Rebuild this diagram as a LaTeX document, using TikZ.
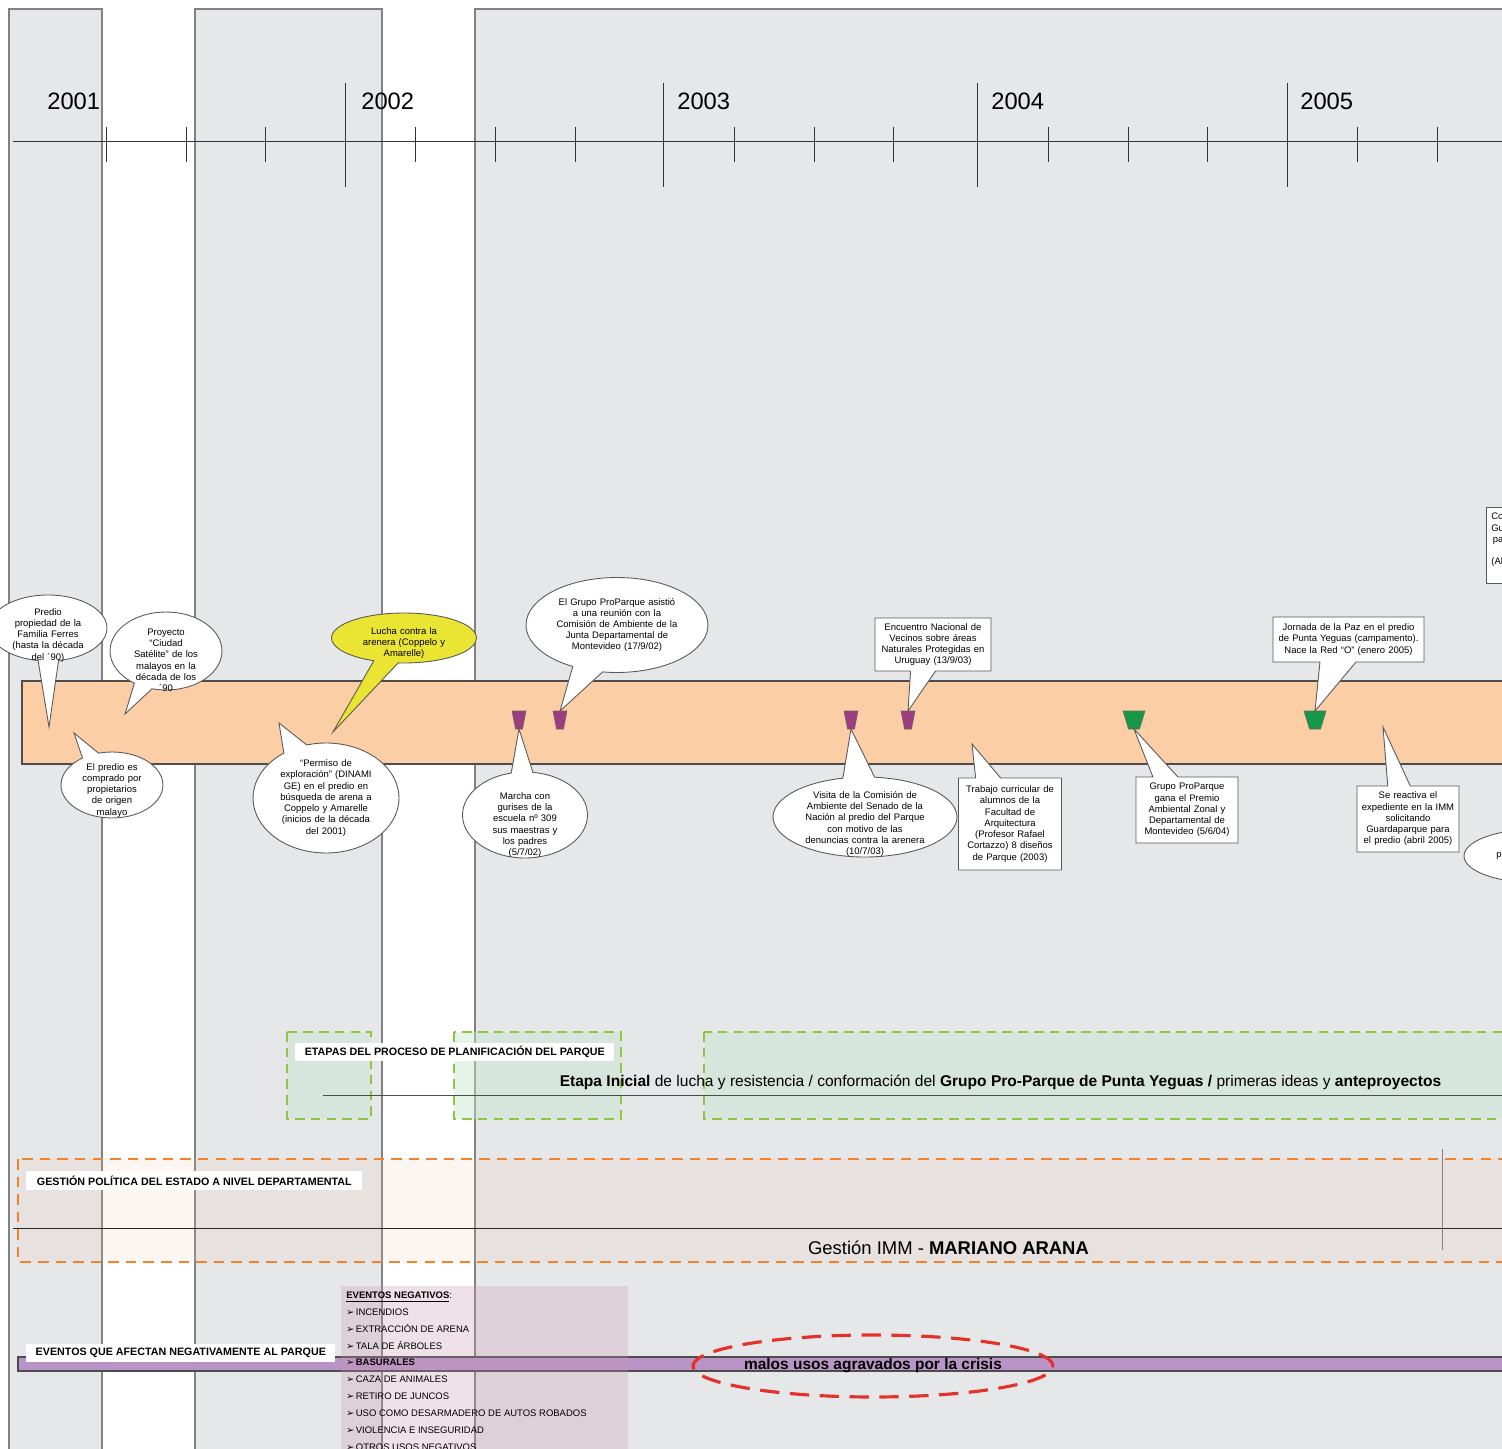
\documentclass[tikz,border=0pt]{standalone}
\usepackage{fontspec}
\setmainfont{Liberation Sans}
\newfontfamily\symb{DejaVu Sans}
\usepackage{tikz}
\usetikzlibrary{shapes,shapes.callouts,shapes.geometric,calc}
\usepackage{xcolor}
\definecolor{colgris}{RGB}{230,231,233}
\definecolor{collinea}{RGB}{130,130,132}
\definecolor{franja}{RGB}{252,206,165}
\definecolor{morado}{RGB}{158,60,128}
\definecolor{verde}{RGB}{22,152,72}
\definecolor{amarillo}{RGB}{233,229,50}
\definecolor{etapaverde}{RGB}{141,198,63}
\definecolor{etapafondo}{RGB}{198,230,205}
\definecolor{gestnaranja}{RGB}{246,130,40}
\definecolor{gestfondo}{RGB}{240,200,170}
\definecolor{evmorado}{RGB}{185,148,198}
\definecolor{evrosa}{RGB}{200,150,175}
\definecolor{rojo}{RGB}{228,50,43}
\tikzstyle{columna}=[fill=colgris, draw=collinea, line width=.6pt]
\tikzstyle{anio}=[anchor=west, inner sep=0pt, font=\fontsize{13.5}{15}\selectfont]
\tikzstyle{nube}=[ellipse callout, draw=black!65, fill=white, line width=.5pt, inner sep=-25pt, text width=2.8cm, align=center, font=\fontsize{5.4}{6.4}\selectfont, callout pointer arc=20]
\tikzstyle{cuadro}=[rectangle callout, draw=black!65, fill=white, line width=.5pt, inner sep=1pt, align=center, font=\fontsize{5.4}{6.4}\selectfont, callout pointer width=.5cm]
\tikzstyle{rotulo}=[fill=white, inner sep=0pt, font=\bfseries\fontsize{6.1}{7}\selectfont]
\tikzstyle{etapa}=[draw=etapaverde, line width=1.3pt, dash pattern=on 5.5pt off 3.5pt, fill=etapafondo, fill opacity=.45]
\tikzstyle{gestion}=[draw=gestnaranja, line width=1.3pt, dash pattern=on 6pt off 4pt, fill=gestfondo, fill opacity=.15]
\tikzset{bajar/.style={execute at begin node={\rule{0pt}{#1}}}}
\newcommand{\marca}[4]{%
 \coordinate (#2-t) at (#3,711);%
 \coordinate (#2-b) at (#3,729);%
 \filldraw[fill=#1, draw=black!60, line width=.3pt] ($(#2-t)+(-#4,0)$) -- ($(#2-t)+(#4,0)$) -- ($(#2-b)+(.5*#4,0)$) -- ($(#2-b)+(-.5*#4,0)$) -- cycle;%
}
\newcommand{\flecha}{{\symb ➢}\,}

\begin{document}
\begin{tikzpicture}[x=.02cm, y=-.02cm]
 \useasboundingbox (0,0) rectangle (1502,1449);
 \clip (0,0) rectangle (1502,1449);
 \fill[white] (0,0) rectangle (1502,1449);
%
 \draw[columna] (9,9) rectangle (102,1460);
 \draw[columna] (195,9) rectangle (382,1460);
 \draw[columna] (475,9) rectangle (1530,1460);
%
 \draw[black!80, line width=.5pt] (13,141) -- (1510,141);
 \draw[black!80, line width=.5pt] (345,83) -- (345,187) (663,83) -- (663,187) (977,83) -- (977,187) (1287,83) -- (1287,187);
 \draw[black!80, line width=.5pt] (106,127) -- (106,162) (186,127) -- (186,162) (265,127) -- (265,162) (415,127) -- (415,162) (495,127) -- (495,162) (575,127) -- (575,162) (734,127) -- (734,162) (814,127) -- (814,162) (893,127) -- (893,162) (1048,127) -- (1048,162) (1128,127) -- (1128,162) (1207,127) -- (1207,162) (1357,127) -- (1357,162) (1437,127) -- (1437,162);
 \node[anio] (a2001) at (47,101) {2001};
 \node[anio] (a2002) at (361,101) {2002};
 \node[anio] (a2003) at (677,101) {2003};
 \node[anio] (a2004) at (991,101) {2004};
 \node[anio] (a2005) at (1300,101) {2005};
%
 \draw[fill=franja, draw=black!70, line width=.6pt] (22,681) rectangle (1530,764);
%
 \marca{morado}{m1}{519}{7}
 \marca{morado}{m2}{560}{7}
 \marca{morado}{m3}{851}{7}
 \marca{morado}{m4}{908}{7}
 \marca{verde}{v1}{1134}{11}
 \marca{verde}{v2}{1315}{11}
%
 \coordinate (p-predio) at (49,727);
 \coordinate (p-satelite) at (125,714);
 \coordinate (p-compra) at (74,733);
 \coordinate (p-lucha) at (333,732);
 \coordinate (p-permiso) at (279,723);
 \coordinate (p-trabajo) at (972,744);
 \coordinate (p-reactiva) at (1383,727);
%
 \node[nube, bajar=12pt, minimum width=2.36cm, minimum height=1.32cm, callout absolute pointer={(p-predio)}] (predio) at (48,628) {Predio\\propiedad de la\\Familia Ferres\\(hasta la década\\del ´90)};
 \node[nube, bajar=14.3pt, minimum width=2.24cm, minimum height=1.56cm, callout absolute pointer={(p-satelite)}] (satelite) at (166,651) {Proyecto\\“Ciudad\\Satélite” de los\\malayos en la\\década de los\\´90};
 \node[nube, bajar=9.7pt, minimum width=2.04cm, minimum height=1.32cm, callout absolute pointer={(p-compra)}] (compra) at (112,785) {El predio es\\comprado por\\propietarios\\de origen\\malayo};
 \node[nube, bajar=9.7pt, fill=amarillo, minimum width=2.9cm, minimum height=1cm, callout absolute pointer={(p-lucha)}] (lucha) at (404,638) {Lucha contra la\\arenera (Coppelo y\\Amarelle)};
 \node[nube, minimum width=2.92cm, minimum height=2.2cm, callout absolute pointer={(p-permiso)}] (permiso) at (326,798) {“Permiso de\\exploración” (DINAMI\\GE) en el predio en\\búsqueda de arena a\\Coppelo y Amarelle\\(inicios de la década\\del 2001)};
 \node[nube, bajar=15.4pt, minimum width=2.5cm, minimum height=1.72cm, callout absolute pointer={(m1-b)}] (marcha) at (525,815) {Marcha con\\gurises de la\\escuela nº 309\\sus maestras y\\los padres\\(5/7/02)};
 \node[nube, minimum width=3.64cm, minimum height=1.9cm, callout absolute pointer={(m2-t)}] (reunion) at (617,625) {El Grupo ProParque asistió\\a una reunión con la\\Comisión de Ambiente de la\\Junta Departamental de\\Montevideo (17/9/02)};
 \node[nube, bajar=12pt, minimum width=3.68cm, minimum height=1.6cm, callout absolute pointer={(m3-b)}] (visita) at (865,817) {Visita de la Comisión de\\Ambiente del Senado de la\\Nación al predio del Parque\\con motivo de las\\denuncias contra la arenera\\(10/7/03)};
%
 \node[cuadro, text width=2.24cm, minimum width=2.32cm, minimum height=1.06cm, callout absolute pointer={(m4-t)}] (encuentro) at (933,644.5) {Encuentro Nacional de\\Vecinos sobre áreas\\Naturales Protegidas en\\Uruguay (13/9/03)};
 \node[cuadro, text width=1.98cm, minimum width=2.06cm, minimum height=1.84cm, callout absolute pointer={(p-trabajo)}] (trabajo) at (1010,824) {Trabajo curricular de\\alumnos de la\\Facultad de\\Arquitectura\\(Profesor Rafael\\Cortazzo) 8 diseños\\de Parque (2003)};
 \node[cuadro, text width=1.96cm, minimum width=2.04cm, minimum height=1.32cm, callout absolute pointer={(v1-b)}] (premio) at (1187,810) {Grupo ProParque\\gana el Premio\\Ambiental Zonal y\\Departamental de\\Montevideo (5/6/04)};
 \node[cuadro, text width=2.94cm, minimum width=3.02cm, minimum height=.9cm, callout pointer width=.72cm, callout absolute pointer={(v2-t)}] (jornada) at (1348.5,639.5) {Jornada de la Paz en el predio\\de Punta Yeguas (campamento).\\Nace la Red “O” (enero 2005)};
 \node[cuadro, text width=1.96cm, minimum width=2.04cm, minimum height=1.32cm, callout pointer width=.45cm, callout absolute pointer={(p-reactiva)}] (reactiva) at (1408,819) {Se reactiva el\\expediente en la IMM\\solicitando\\Guardaparque para\\el predio (abril 2005)};
%
 \node[draw=black!65, fill=white, line width=.5pt, minimum width=3cm, minimum height=1.52cm, anchor=west] (guarda) at (1486,545) {};
 \node[anchor=north west, align=left, inner sep=0pt, font=\fontsize{5.4}{6.4}\selectfont] (guarda-txt) at (1491,513) {Co\\Gu\\\,pa\\\mbox{}\\(Al};
 \node[ellipse, draw=black!65, fill=white, line width=.5pt, minimum width=2.8cm, minimum height=1.06cm] (ultima) at (1534,856) {};
 \node[inner sep=0pt, font=\fontsize{5.4}{6.4}\selectfont] (ultima-txt) at (1499,856) {p};
%
 \draw[etapa] (287,1032) rectangle (371,1119);
 \draw[etapa] (454,1032) rectangle (621,1119);
 \draw[etapa] (704,1032) rectangle (1530,1119);
 \draw[black!70] (323,1095) -- (1510,1095);
 \node[rotulo, anchor=west, minimum width=6.38cm, minimum height=.36cm] (etapas) at (295,1052) {ETAPAS DEL PROCESO DE PLANIFICACIÓN DEL PARQUE};
 \node[font=\fontsize{8.85}{10}\selectfont] (inicial) at (1000.5,1082) {\textbf{Etapa Inicial} de lucha y resistencia / conformación del \textbf{Grupo Pro-Parque de Punta Yeguas /} primeras ideas y \textbf{anteproyectos}};
%
 \draw[gestion] (18,1159) rectangle (1530,1262);
 \draw[black!85] (13,1228) -- (1510,1228);
 \draw[collinea] (1442,1149) -- (1442,1250);
 \node[rotulo, anchor=west, minimum width=6.72cm, minimum height=.38cm] (gestpol) at (26,1180.5) {GESTIÓN POLÍTICA DEL ESTADO A NIVEL DEPARTAMENTAL};
 \node[font=\fontsize{10.5}{12}\selectfont] (arana) at (948.5,1248) {Gestión IMM - \textbf{MARIANO ARANA}};
%
 \draw[fill=evmorado, draw=black!70, line width=.6pt] (18,1357) rectangle (1530,1371);
 \fill[evrosa, fill opacity=.28] (341,1286) rectangle (628,1460);
 \node[rotulo, anchor=west, minimum width=6.18cm, minimum height=.36cm] (evafectan) at (26,1353) {EVENTOS QUE AFECTAN NEGATIVAMENTE AL PARQUE};
 \node[anchor=north west, align=left, inner sep=0pt, font=\fontsize{5.4}{9.6}\selectfont] (lista) at (346,1291.5) {\underline{\textbf{EVENTOS NEGATIVOS}}:\\\flecha INCENDIOS\\\flecha EXTRACCIÓN DE ARENA\\\flecha TALA DE ÁRBOLES\\\flecha \textbf{BASURALES}\\\flecha CAZA DE ANIMALES\\\flecha RETIRO DE JUNCOS\\\flecha USO COMO DESARMADERO DE AUTOS ROBADOS\\\flecha VIOLENCIA E INSEGURIDAD\\\flecha OTROS USOS NEGATIVOS};
 \node[ellipse, draw=rojo, line width=1.8pt, dash pattern=on 11pt off 6pt, inner sep=-20pt, minimum width=7.2cm, minimum height=1.24cm, font=\bfseries\fontsize{8.8}{10}\selectfont] (crisis) at (873,1366) {malos usos agravados por la crisis};
\end{tikzpicture}
\end{document}
